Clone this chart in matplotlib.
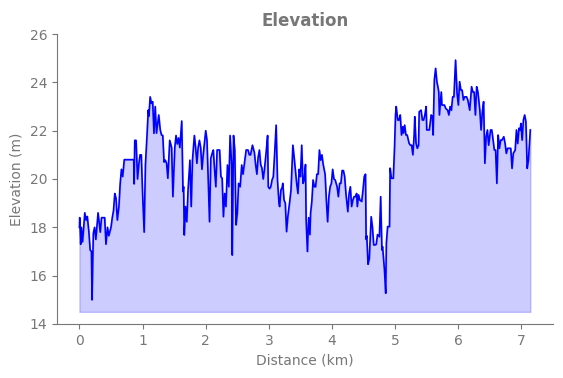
import numpy as np
import matplotlib
matplotlib.use("Agg")
import matplotlib.pyplot as plt

# distance (km) / elevation (m)
dist_km = [
    0.00, 0.005, 0.01, 0.02, 0.03, 0.05, 0.085, 0.105, 0.125, 0.15, 0.17, 0.19, 0.20, 0.22, 0.24,
    0.26, 0.295, 0.33, 0.35, 0.37, 0.40, 0.42, 0.445, 0.465, 0.50, 0.52, 0.54, 0.56, 0.58, 0.60,
    0.625, 0.645, 0.665, 0.685, 0.71, 0.86, 0.866, 0.876, 0.897, 0.92, 0.94, 0.96, 0.98, 1.00,
    1.025, 1.045, 1.07, 1.09, 1.10, 1.12,
    1.14, 1.16, 1.18, 1.20, 1.22, 1.256, 1.28, 1.30, 1.32, 1.34, 1.36, 1.38, 1.40, 1.43, 1.46,
    1.48, 1.51, 1.53, 1.55, 1.57, 1.59, 1.62, 1.64, 1.65, 1.66, 1.68, 1.70, 1.72, 1.75, 1.77,
    1.79, 1.82, 1.84, 1.86, 1.88, 1.90, 1.92, 1.94, 1.96, 2.00, 2.02, 2.04, 2.06, 2.08, 2.10,
    2.12, 2.14, 2.16, 2.18, 2.22, 2.24, 2.26, 2.28, 2.30, 2.32,
    2.344, 2.365, 2.386, 2.41, 2.42, 2.44, 2.46, 2.48, 2.50, 2.52, 2.545, 2.57, 2.59, 2.61,
    2.64, 2.67, 2.69, 2.71, 2.74, 2.77, 2.79, 2.81, 2.83, 2.85, 2.87, 2.89, 2.91, 2.93, 2.96,
    2.98, 2.99, 3.01, 3.03, 3.05, 3.07, 3.09, 3.115, 3.136, 3.16, 3.17, 3.19, 3.21, 3.22, 3.24,
    3.26, 3.28, 3.30, 3.33, 3.35, 3.38, 3.40, 3.42, 3.44, 3.46, 3.48, 3.50, 3.52, 3.54, 3.56, 3.58,
    3.59, 3.61, 3.62, 3.63, 3.65, 3.66, 3.68, 3.70, 3.72, 3.74, 3.76, 3.78, 3.80, 3.82, 3.84,
    3.86, 3.89, 3.91, 3.93, 3.95, 3.97, 3.99, 4.01, 4.03, 4.05, 4.08, 4.10, 4.12, 4.14, 4.16,
    4.18, 4.20, 4.22, 4.25, 4.27, 4.29, 4.31, 4.33, 4.35, 4.37, 4.39, 4.40, 4.42, 4.44, 4.47,
    4.49, 4.51, 4.53, 4.54, 4.55, 4.57, 4.59, 4.62, 4.64, 4.66, 4.68, 4.70, 4.72,
    4.75, 4.77, 4.79, 4.80, 4.83, 4.85, 4.86, 4.88, 4.91, 4.92, 4.94, 4.97, 4.99, 5.005, 5.016,
    5.04, 5.06, 5.08, 5.10, 5.12, 5.13, 5.15, 5.17, 5.19, 5.22, 5.24, 5.26, 5.28, 5.30, 5.31,
    5.33, 5.35, 5.37, 5.38, 5.41, 5.43, 5.45, 5.47, 5.49, 5.50, 5.52, 5.54, 5.57, 5.59, 5.60,
    5.62, 5.64, 5.66, 5.68, 5.69, 5.70, 5.73, 5.74, 5.78, 5.80, 5.83, 5.85, 5.87, 5.89, 5.91, 5.93,
    5.956, 5.98, 6.00, 6.02, 6.04, 6.06, 6.08, 6.10, 6.13, 6.15, 6.18, 6.21, 6.23, 6.25, 6.27,
    6.29, 6.31, 6.34, 6.36, 6.38, 6.40, 6.42, 6.44, 6.46, 6.48, 6.51, 6.53, 6.55, 6.57, 6.59,
    6.61, 6.63, 6.65, 6.67, 6.69, 6.72, 6.74, 6.76, 6.78, 6.80, 6.83, 6.85, 6.87, 6.90, 6.92,
    6.94, 6.96, 6.98, 6.99, 7.01, 7.03, 7.05, 7.07, 7.09, 7.11, 7.14,
]
elev_m = [
    18.0, 18.4, 18.0, 17.3, 18.0, 17.4, 18.6, 18.3, 18.45, 17.8, 17.06, 17.0, 15.0, 17.75, 18.0,
    17.5, 18.6, 17.8, 18.4, 18.4, 18.4, 17.3, 18.0, 17.65, 18.0, 18.4, 18.7, 19.4, 19.2, 18.3,
    18.85, 19.8, 20.4, 20.1, 20.8, 20.8, 19.8, 21.6, 21.6, 20.0, 20.6, 21.0, 21.0, 19.4,
    17.8, 20.6, 21.8, 22.85, 22.6, 23.4,
    23.13, 23.2, 21.89, 23.0, 21.9, 22.65, 22.03, 21.82, 21.8, 20.7, 20.78, 20.65, 20.03, 21.6, 21.3,
    19.27, 21.3, 21.8, 21.45, 21.7, 21.3, 22.4, 19.48, 19.68, 17.68, 18.86, 18.23, 19.54, 20.78, 18.86,
    20.78, 21.8, 21.3, 20.65, 21.3, 21.6, 21.3, 20.4, 21.0, 22.0, 21.6, 19.96, 18.23, 20.85, 21.05,
    21.2, 20.4, 19.68, 21.2, 21.2, 20.1, 20.03, 18.44, 19.4, 18.86,
    20.58, 19.68, 21.8, 20.58, 16.85, 21.8, 21.2, 18.1, 18.58, 19.82, 19.68, 20.58, 20.2, 20.6,
    21.2, 21.2, 21.0, 21.0, 21.4, 21.1, 20.6, 20.2, 20.9, 21.2, 20.6, 20.45, 20.0, 20.4, 21.2,
    21.8, 19.68, 19.6, 19.68, 19.96, 20.1, 21.0, 22.23, 19.96, 19.0, 18.86, 19.54, 19.65, 19.82, 19.13,
    19.0, 17.82, 18.44, 19.07, 19.54, 21.4, 20.9, 20.35, 19.82, 19.4, 20.4, 20.1, 21.4, 19.82, 19.96, 20.6,
    18.3, 17.0, 17.7, 18.4, 17.7, 18.58, 19.07, 19.96, 19.68, 19.68, 20.2, 20.2, 21.2, 20.78, 21.0,
    20.6, 20.2, 19.13, 18.23, 19.27, 19.68, 19.82, 20.4, 20.0, 19.96, 19.68, 19.27, 19.82, 19.82, 20.35,
    20.35, 20.1, 19.4, 18.65, 19.4, 19.68, 18.86, 19.13, 19.27, 19.27, 19.4, 18.86, 19.34, 19.13, 19.07,
    19.54, 20.1, 20.2, 17.5, 17.65, 16.47, 16.7, 18.44, 18.0, 17.27, 17.27, 17.3, 17.7,
    17.61, 19.27, 17.06, 17.2, 16.24, 15.27, 17.34, 18.03, 18.03, 20.45, 20.03, 20.03, 21.34, 22.65, 23.0,
    22.44, 22.44, 22.65, 21.82, 22.16, 21.9, 22.23, 21.82, 21.82, 21.48, 21.4, 21.4, 21.0, 21.82, 22.58,
    21.48, 21.27, 21.4, 22.78, 22.85, 22.44, 22.44, 22.65, 23.0, 22.03, 22.03, 22.03, 22.65, 22.58, 21.82,
    24.1, 24.58, 24.03, 23.76, 23.6, 22.65, 23.6, 23.06, 23.06, 22.92, 22.85, 22.65, 23.0, 22.85, 23.4, 23.4,
    24.92, 23.54, 23.06, 24.03, 23.68, 23.68, 23.27, 23.4, 23.4, 23.27, 22.85, 23.82, 23.6, 23.6, 22.65,
    23.82, 23.6, 22.85, 22.03, 22.78, 23.2, 20.65, 21.75, 22.03, 21.4, 22.03, 22.03, 21.61, 21.2, 21.2,
    19.82, 21.82, 21.27, 21.61, 21.61, 21.75, 21.47, 21.06, 21.27, 21.27, 21.27, 20.44, 21.06, 21.2, 22.03,
    21.47, 22.1, 22.03, 22.3, 21.61, 22.44, 22.65, 22.37, 20.44, 20.78, 22.03,
]

x = np.array(dist_km)
y = np.array(elev_m)

GRAY = "#777777"
plt.rcParams["font.family"] = ["DejaVu Sans"]

fig = plt.figure(figsize=(5.63, 3.78), dpi=100)
ax = fig.add_axes([0.101, 0.143, 0.881, 0.767])

ax.fill_between(x, y, 14.5, color="blue", alpha=0.2)
ax.plot(x, y, color="blue", lw=1.2)

ax.set_ylim(14, 26)
ax.set_yticks([14, 16, 18, 20, 22, 24, 26])
ax.set_xticks(range(8))
ax.set_title("Elevation", fontsize=12, fontweight="bold", color=GRAY)
ax.set_xlabel("Distance (km)", color=GRAY)
ax.set_ylabel("Elevation (m)", color=GRAY)
ax.tick_params(colors=GRAY)
for s in ["top", "right"]:
    ax.spines[s].set_visible(False)
for s in ["left", "bottom"]:
    ax.spines[s].set_color(GRAY)

fig.savefig("out.png", dpi=100)
